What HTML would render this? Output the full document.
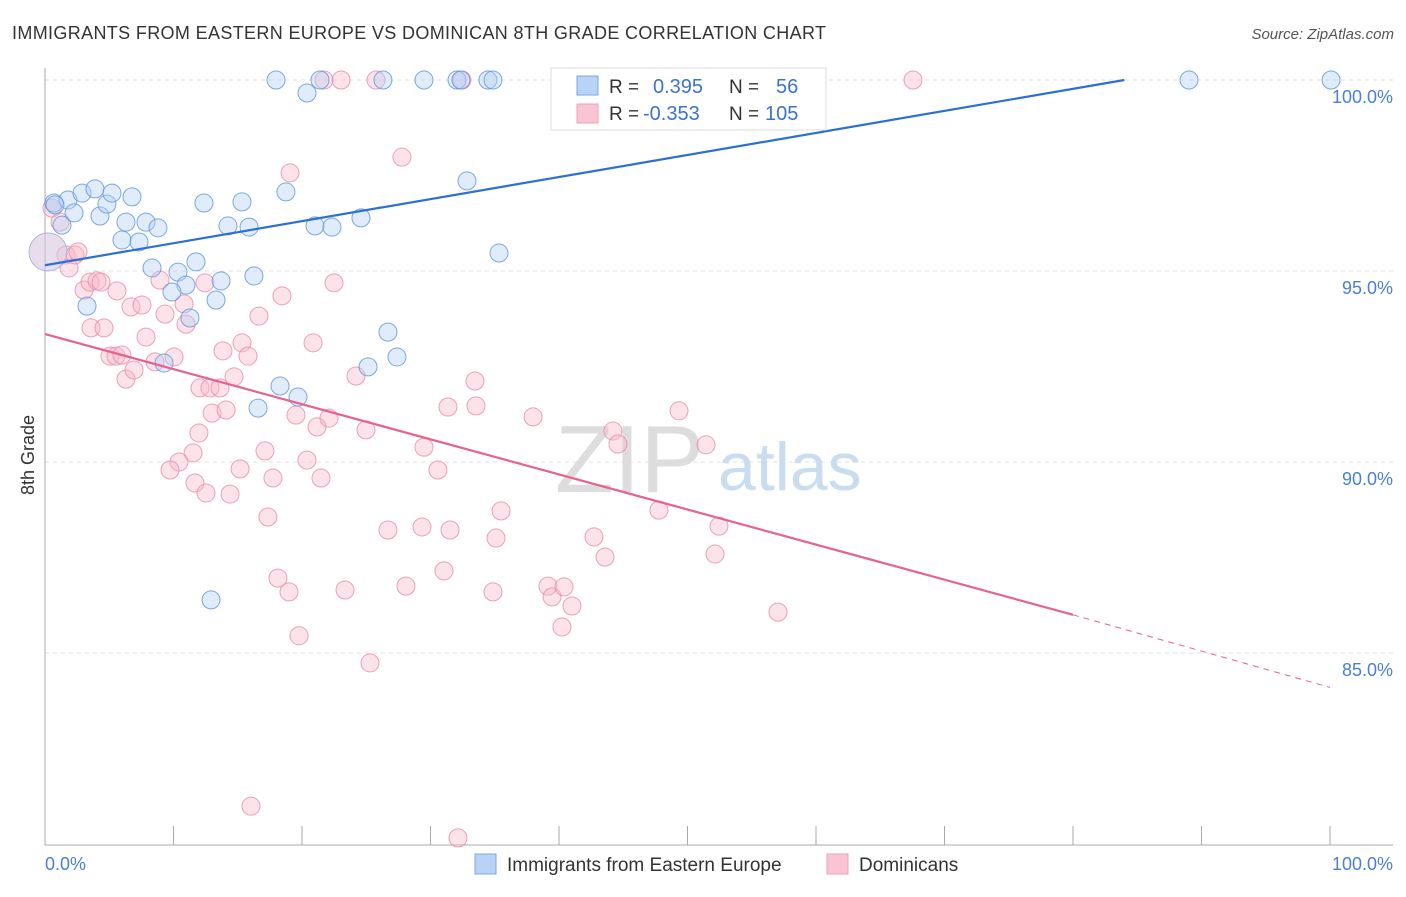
<!DOCTYPE html>
<html><head><meta charset="utf-8"><style>
body{margin:0;background:#fff;font-family:"Liberation Sans",sans-serif;}
svg text{font-family:"Liberation Sans",sans-serif;}
</style></head><body>
<svg id="c" width="1406" height="892">
<text x="12" y="39" font-size="18" fill="#333" textLength="814">IMMIGRANTS FROM EASTERN EUROPE VS DOMINICAN 8TH GRADE CORRELATION CHART</text>
<text x="1394" y="39" font-size="15" fill="#555" text-anchor="end" font-style="italic">Source: ZipAtlas.com</text>
<g id="grid"></g>
<text x="555" y="492" font-size="96" fill="#ddd" font-family="Liberation Serif">ZIP</text>
<text x="718" y="490" font-size="68" fill="#c9dcf0">atlas</text>
<g id="pts"></g>
<g id="lines"></g>
<text x="34" y="455" font-size="18" fill="#333" transform="rotate(-90 34 455)" text-anchor="middle">8th Grade</text>
<text x="45" y="870" font-size="18" fill="#4a7fd4">0.0%</text>
<text x="1393" y="870" font-size="18" fill="#4a7fd4" text-anchor="end">100.0%</text>
<g>
<rect x="551" y="68" width="275" height="62" fill="#fff" stroke="#ddd"/>
<rect x="577" y="76" width="21" height="19" fill="#b8d3f5" stroke="#7aa7e6"/>
<rect x="577" y="104" width="21" height="19" fill="#f9c5d3" stroke="#eea0b8"/>
<text x="609" y="93" font-size="19" fill="#333">R =</text>
<text x="653" y="93" font-size="20" fill="#3b73cc">0.395</text>
<text x="729" y="93" font-size="19" fill="#333">N =</text>
<text x="776" y="93" font-size="20" fill="#3b73cc">56</text>
<text x="609" y="120" font-size="19" fill="#333">R =</text>
<text x="643" y="120" font-size="20" fill="#3b73cc">-0.353</text>
<text x="729" y="120" font-size="19" fill="#333">N =</text>
<text x="765" y="120" font-size="20" fill="#3b73cc">105</text>
</g>
<g>
<rect x="475" y="854" width="21" height="20" fill="#b8d3f5" stroke="#7aa7e6"/>
<text x="507" y="871" font-size="19" fill="#333">Immigrants from Eastern Europe</text>
<rect x="827" y="854" width="21" height="20" fill="#f9c5d3" stroke="#eea0b8"/>
<text x="859" y="871" font-size="19" fill="#333">Dominicans</text>
</g>
</svg>
<script>
const yTicks=[100,95,90,85];
const xTicks=[0,10,20,30,40,50,60,70,80,90,100];
const bluePx=[[276,80],[307,93],[320,80],[383,80],[424,80],[457,80],[461,80],[488,80],[493,80],[1189,80],[1331,80],[54,203],[62,225],[68,200],[74,213],[82,193],[95,189],[100,216],[107,204],[112,193],[122,240],[126,222],[132,197],[139,242],[146,222],[158,228],[152,268],[178,272],[186,285],[172,292],[196,262],[204,203],[216,300],[190,318],[221,281],[228,226],[242,202],[249,227],[254,276],[286,192],[315,226],[332,227],[361,218],[467,181],[499,253],[87,306],[164,363],[258,408],[280,386],[298,397],[368,367],[388,332],[397,357],[211,600],[55,205]];
const pinkPx=[[324,80],[341,80],[376,80],[462,80],[913,80],[402,157],[290,173],[52,208],[60,222],[66,255],[69,268],[75,255],[78,252],[84,290],[90,282],[97,281],[101,282],[117,291],[91,328],[104,328],[110,356],[116,356],[122,355],[126,379],[134,370],[131,307],[142,305],[146,337],[155,362],[160,280],[165,314],[174,357],[184,304],[186,324],[200,388],[205,283],[210,388],[212,413],[220,388],[223,351],[226,410],[234,377],[242,343],[248,356],[259,316],[282,296],[313,343],[334,283],[199,433],[193,453],[179,462],[170,470],[195,483],[206,493],[230,494],[240,469],[265,451],[273,478],[268,517],[296,415],[307,460],[317,427],[321,478],[329,418],[356,376],[366,430],[278,578],[289,592],[299,636],[345,590],[370,663],[388,530],[406,586],[422,527],[424,447],[438,470],[444,571],[450,530],[448,407],[476,406],[475,381],[493,592],[496,538],[501,511],[533,417],[548,586],[552,597],[564,587],[572,606],[562,627],[594,537],[605,557],[613,431],[618,444],[659,510],[679,411],[706,445],[715,554],[719,526],[778,612],[251,806],[458,838]];
const blueX=bluePx.map(p=>+((p[0]-45)/12.85).toFixed(2)), blueY=bluePx.map(p=>+(100-(p[1]-80)/38.2).toFixed(2));
const pinkX=pinkPx.map(p=>+((p[0]-45)/12.85).toFixed(2)), pinkY=pinkPx.map(p=>+(100-(p[1]-80)/38.2).toFixed(2));
const blueTrend=[[0,95.15],[84,100]];
const pinkTrend=[[0,93.35],[80,86.0],[100,84.1]];
const X=v=>45+v*12.85, Y=v=>80+(100-v)*38.2;
const NS='http://www.w3.org/2000/svg';
function mk(t,a,p){const e=document.createElementNS(NS,t);for(const k in a)e.setAttribute(k,a[k]);p.appendChild(e);return e;}
const g=document.getElementById('grid');
yTicks.forEach(v=>{const l=mk('line',{x1:45,x2:1393,y1:Y(v),y2:Y(v),stroke:'#e2e2e2','stroke-dasharray':'4 4'},g);


const t=mk('text',{x:1393,y:Y(v)+23,'font-size':18,fill:'#4a7fd4','text-anchor':'end'},g);t.textContent=v.toFixed(1)+'%';

});
const ax=mk('line',{x1:45,x2:45,y1:68,y2:845,stroke:'#aaa'},g);


const bx=mk('line',{x1:45,x2:1393,y1:845,y2:845,stroke:'#aaa'},g);


xTicks.forEach(v=>{const l=mk('line',{x1:X(v),x2:X(v),y1:826,y2:845,stroke:'#aaa'},g);

});
const pg=document.getElementById('pts');
function dots(xs,ys,fill,stroke,name){xs.forEach((x,i)=>{const c=mk('circle',{cx:X(x),cy:Y(ys[i]),r:9,fill:fill,'fill-opacity':0.4,stroke:stroke,'stroke-opacity':0.8,'stroke-width':1},pg);

});}
dots(pinkX,pinkY,'#f7b8ca','#e98aa8','dominican-point');
dots(blueX,blueY,'#b3cff3','#5b93dd','eastern-europe-point');
const big=mk('circle',{cx:48,cy:252,r:19,fill:'#d8c8de','fill-opacity':0.6,stroke:'#a9b4de'},pg);


const lg=document.getElementById('lines');
const bl=mk('line',{x1:X(blueTrend[0][0]),y1:Y(blueTrend[0][1]),x2:X(blueTrend[1][0]),y2:Y(blueTrend[1][1]),stroke:'#2c6fd6','stroke-width':2.2},lg);


const pl=mk('line',{x1:X(pinkTrend[0][0]),y1:Y(pinkTrend[0][1]),x2:X(pinkTrend[1][0]),y2:Y(pinkTrend[1][1]),stroke:'#e5638f','stroke-width':2.2},lg);


const pd=mk('line',{x1:X(pinkTrend[1][0]),y1:Y(pinkTrend[1][1]),x2:X(pinkTrend[2][0]),y2:Y(pinkTrend[2][1]),stroke:'#e5638f','stroke-width':1,'stroke-dasharray':'6 5'},lg);


</script>
</body></html>
